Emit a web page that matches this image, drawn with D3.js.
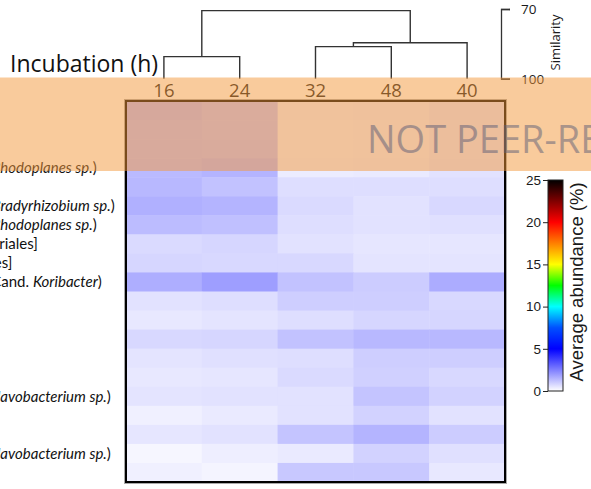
<!DOCTYPE html>
<html>
<head>
<meta charset="utf-8">
<script src="https://cdn.jsdelivr.net/npm/d3@7"></script>
<style>
  html, body { margin: 0; padding: 0; background: #fff; }
  svg { display: block; }
</style>
</head>
<body>
<script>
// Incubation times (h), in dendrogram leaf order
const columns = ["16", "24", "32", "48", "40"];

// Taxon labels, one per heatmap row (<i>…</i> marks italic text)
const rowLabels = [
  "Acidobacteria",
  "Verrucomicrobia",
  "Planctomycetes",
  "Bradyrhizobiaceae (<i>Rhodoplanes sp.</i>)",
  "Chloroflexi",
  "Bradyrhizobiaceae (<i>Bradyrhizobium sp.</i>)",
  "Bradyrhizobiaceae (<i>Rhodoplanes sp.</i>)",
  "Other [Sphingobacteriales]",
  "Gaiellaceae [Gaiellales]",
  "Acidobacteriaceae (Cand. <i>Koribacter</i>)",
  "Chlorobi",
  "Actinobacteria",
  "Firmicutes",
  "Nitrospirae",
  "Bacteroidetes",
  "Flavobacteriaceae (<i>Flavobacterium sp.</i>)",
  "Armatimonadetes",
  "Chitinophagaceae",
  "Flavobacteriaceae (<i>Flavobacterium sp.</i>)",
  "Cytophagaceae"
];

// Average abundance (%) per row, columns in the order of `columns`
const abundance = [
  [1.39, 1.24, 0.37, 0.41, 0.57],
  [1.31, 1.24, 0.33, 0.37, 0.53],
  [1.31, 1.27, 0.33, 0.37, 0.53],
  [1.35, 1.47, 0.37, 0.41, 0.57],
  [1.39, 1.20, 0.65, 0.65, 0.65],
  [1.55, 1.47, 0.73, 0.57, 0.76],
  [1.31, 1.24, 0.65, 0.57, 0.61],
  [0.73, 0.80, 0.57, 0.49, 0.49],
  [0.80, 0.76, 0.76, 0.53, 0.53],
  [1.59, 1.90, 1.20, 1.00, 1.63],
  [0.57, 0.65, 0.96, 0.96, 0.76],
  [0.45, 0.53, 0.65, 0.80, 0.80],
  [0.76, 0.80, 1.20, 1.39, 1.39],
  [0.53, 0.61, 0.65, 0.96, 0.96],
  [0.45, 0.49, 0.73, 0.92, 0.76],
  [0.53, 0.57, 0.57, 1.16, 0.88],
  [0.29, 0.41, 0.57, 0.88, 0.57],
  [0.49, 0.57, 1.16, 1.47, 1.00],
  [0.18, 0.33, 0.41, 0.88, 0.61],
  [0.29, 0.22, 1.08, 1.08, 0.45]
];

// Cluster tree of the incubation times (similarity at each join)
const dendrogram = {
  sim: 70.7,
  children: [
    { sim: 90.5, children: [{ name: "16" }, { name: "24" }] },
    { sim: 84.5, children: [
      { sim: 86.2, children: [{ name: "32" }, { name: "48" }] },
      { name: "40" }
    ] }
  ]
};

const similarityTicks = [70, 100];
const colorTicks = [0, 5, 10, 15, 20, 25];
const colorStops = [0, 5, 7.5, 10, 12.5, 15, 20, 25];
const stopColors = ["#ffffff", "#0000ff", "#0050ff", "#00ffff", "#00ff00", "#ffff00", "#ff0000", "#000000"];
const watermark = "NOT PEER-REVIEWED";

const W = 591, H = 489;
const sans = "'Open Sans', Lato, sans-serif";
const labelFont = "Lato, 'Open Sans', sans-serif";
const arial = "'Liberation Sans', Arial, sans-serif";

const svg = d3.select("body").append("svg")
  .attr("width", W).attr("height", H);

const x = d3.scaleBand().domain(columns).range([126, 505]);
const y = d3.scaleBand().domain(d3.range(rowLabels.length)).range([101, 482]);
const color = d3.scaleLinear().domain(colorStops).range(stopColors).clamp(true);

// Heatmap cells
const cells = svg.append("g");
abundance.forEach((row, i) => {
  cells.selectAll(null)
    .data(row)
    .join("rect")
    .attr("x", (d, j) => x(columns[j]))
    .attr("y", y(i))
    .attr("width", x.bandwidth() + 0.5)
    .attr("height", y.bandwidth() + 0.5)
    .attr("fill", d => color(d));
});

// Frame around the heatmap
svg.append("rect")
  .attr("x", 124.5).attr("y", 99.5)
  .attr("width", 382).attr("height", 384)
  .attr("fill", "none").attr("stroke", "#a8a8a8").attr("stroke-width", 1);
svg.append("rect")
  .attr("x", 126).attr("y", 101)
  .attr("width", 379).attr("height", 381)
  .attr("fill", "none").attr("stroke", "#000").attr("stroke-width", 2);

// Row labels; they start left of the page so only their tails show
const labels = svg.append("g")
  .attr("font-family", labelFont).attr("font-size", 15).attr("fill", "#111");
rowLabels.forEach((lab, i) => {
  const t = labels.append("text")
    .attr("x", -137)
    .attr("y", y(i) + y.bandwidth() / 2)
    .attr("dy", "0.35em");
  lab.split(/(<i>.*?<\/i>)/).filter(s => s.length).forEach(part => {
    const it = part.startsWith("<i>");
    t.append("tspan")
      .attr("font-style", it ? "italic" : "normal")
      .text(it ? part.slice(3, -4) : part);
  });
});

// Column labels
svg.append("g")
  .selectAll("text")
  .data(columns)
  .join("text")
  .attr("x", d => x(d) + x.bandwidth() / 2)
  .attr("y", 97)
  .attr("text-anchor", "middle")
  .attr("font-family", sans).attr("font-size", 18.5)
  .attr("fill", "#1a1a1a")
  .text(d => d);

// Dendrogram
const sim = d3.scaleLinear().domain([70, 100]).range([9, 78.7]);
const root = d3.hierarchy(dendrogram);
root.eachAfter(n => {
  if (n.children) {
    n.px = d3.mean(n.children, c => c.px);
    n.py = sim(n.data.sim);
  } else {
    n.px = x(n.data.name) + x.bandwidth() / 2;
    n.py = sim(100);
  }
});
svg.append("g")
  .selectAll("path")
  .data(root.descendants().filter(n => n.children))
  .join("path")
  .attr("d", n => {
    const [a, b] = n.children;
    return `M${a.px},${a.py}V${n.py}H${b.px}V${b.py}`;
  })
  .attr("fill", "none").attr("stroke", "#333").attr("stroke-width", 1.4);

// Similarity scale bar
const simAxis = svg.append("g")
  .attr("transform", "translate(501,0)")
  .call(d3.axisRight(sim).tickValues(similarityTicks).tickSize(9).tickSizeOuter(9).tickPadding(11));
simAxis.selectAll("path, line").attr("stroke", "#333").attr("stroke-width", 1.3);
simAxis.selectAll("text")
  .attr("font-family", sans).attr("font-size", 13.5).attr("fill", "#1a1a1a");
svg.append("text")
  .attr("transform", "translate(559.5,42.5) rotate(-90)")
  .attr("text-anchor", "middle")
  .attr("font-family", sans).attr("font-size", 13)
  .attr("fill", "#1a1a1a")
  .text("Similarity");

// Colour bar
const cb = d3.scaleLinear().domain([0, 25]).range([391, 180]);
const grad = svg.append("defs").append("linearGradient")
  .attr("id", "abundance-grad")
  .attr("x1", 0).attr("y1", 1).attr("x2", 0).attr("y2", 0);
grad.selectAll("stop")
  .data(colorStops)
  .join("stop")
  .attr("offset", d => d / 25)
  .attr("stop-color", (d, i) => stopColors[i]);
svg.append("rect")
  .attr("x", 548).attr("y", cb(25))
  .attr("width", 15).attr("height", cb(0) - cb(25))
  .attr("fill", "url(#abundance-grad)")
  .attr("stroke", "#222").attr("stroke-width", 1);
const cbAxis = svg.append("g")
  .attr("transform", "translate(548,0)")
  .call(d3.axisLeft(cb).tickValues(colorTicks).tickSize(5).tickPadding(2));
cbAxis.select(".domain").remove();
cbAxis.selectAll("line").attr("stroke", "#222");
cbAxis.selectAll("text")
  .attr("font-family", arial).attr("font-size", 13.5).attr("fill", "#1a1a1a");
svg.append("text")
  .attr("transform", "translate(583,282) rotate(-90)")
  .attr("text-anchor", "middle")
  .attr("font-family", arial).attr("font-size", 18.5)
  .attr("fill", "#1a1a1a")
  .text("Average abundance (%)");

// Axis title
svg.append("text")
  .attr("x", 10).attr("y", 72)
  .attr("font-family", sans).attr("font-size", 23)
  .attr("fill", "#111")
  .text("Incubation (h)");

// Translucent banner with watermark text
svg.append("rect")
  .attr("x", 0).attr("y", 77.5)
  .attr("width", W).attr("height", 93.5)
  .attr("fill", "rgb(243,151,57)").attr("opacity", 0.5);
svg.append("text")
  .attr("x", 367).attr("y", 153)
  .attr("font-family", sans).attr("font-size", 38)
  .attr("fill", "#5e5e78").attr("opacity", 0.5)
  .text(watermark);
</script>
</body>
</html>
